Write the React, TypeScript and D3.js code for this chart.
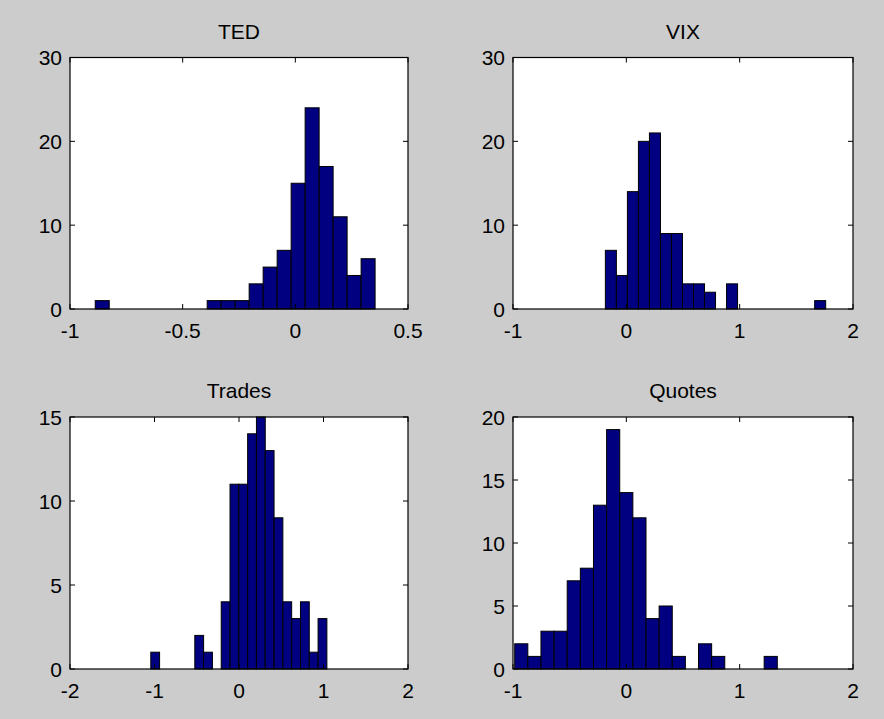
import React, { useEffect, useRef } from 'react'
import * as d3 from 'd3'

// histogram counts (20 bins each), and the data min/max that set the bins
const tedCounts = [1, 0, 0, 0, 0, 0, 0, 0, 1, 1, 1, 3, 5, 7, 15, 24, 17, 11, 4, 6]
const tedRange = [-0.888, 0.354]
const vixCounts = [7, 4, 14, 20, 21, 9, 9, 3, 3, 2, 0, 3, 0, 0, 0, 0, 0, 0, 0, 1]
const vixRange = [-0.185, 1.759]
const tradesCounts = [1, 0, 0, 0, 0, 2, 1, 0, 4, 11, 11, 14, 15, 13, 9, 4, 3, 4, 1, 3]
const tradesRange = [-1.044, 1.04]
const quotesCounts = [2, 1, 3, 3, 7, 8, 13, 19, 14, 12, 4, 5, 1, 0, 2, 1, 0, 0, 0, 1]
const quotesRange = [-0.985, 1.332]

const tedXTicks = [-1, -0.5, 0, 0.5]
const tedYTicks = [0, 10, 20, 30]
const vixXTicks = [-1, 0, 1, 2]
const vixYTicks = [0, 10, 20, 30]
const tradesXTicks = [-2, -1, 0, 1, 2]
const tradesYTicks = [0, 5, 10, 15]
const quotesXTicks = [-1, 0, 1, 2]
const quotesYTicks = [0, 5, 10, 15, 20]

const panels = [
    { title: 'TED', counts: tedCounts, range: tedRange, xTicks: tedXTicks, yTicks: tedYTicks, box: [70, 57.5, 408, 309] },
    { title: 'VIX', counts: vixCounts, range: vixRange, xTicks: vixXTicks, yTicks: vixYTicks, box: [513, 57.5, 853, 309] },
    { title: 'Trades', counts: tradesCounts, range: tradesRange, xTicks: tradesXTicks, yTicks: tradesYTicks, box: [70, 417, 408, 669] },
    { title: 'Quotes', counts: quotesCounts, range: quotesRange, xTicks: quotesXTicks, yTicks: quotesYTicks, box: [513, 417, 853, 669] },
]

const FONT = '"Liberation Sans", Arial, sans-serif'
const FS = 21
const TICK = 5

function drawPanel(svg: any, p: any) {
    const [x0, y0, x1, y1] = p.box
    const x = d3.scaleLinear().domain(d3.extent(p.xTicks) as any).range([x0, x1])
    const y = d3.scaleLinear().domain(d3.extent(p.yTicks) as any).range([y1, y0])
    const n = p.counts.length
    const w = (p.range[1] - p.range[0]) / n
    const bins = p.counts.map((c: number, i: number) => ({
        lo: p.range[0] + i * w,
        hi: p.range[0] + (i + 1) * w,
        c,
    }))

    const g = svg.append('g')

    g.append('rect')
        .attr('x', x0).attr('y', y0)
        .attr('width', x1 - x0).attr('height', y1 - y0)
        .attr('fill', '#fff')

    g.selectAll('rect.bar')
        .data(bins.filter((b: any) => b.c > 0))
        .enter()
        .append('rect')
        .classed('bar', true)
        .attr('x', (d: any) => x(d.lo))
        .attr('y', (d: any) => y(d.c))
        .attr('width', (d: any) => x(d.hi) - x(d.lo))
        .attr('height', (d: any) => y(0) - y(d.c))
        .attr('fill', '#000080')
        .attr('stroke', '#000')
        .attr('stroke-width', 1)

    // box
    g.append('rect')
        .attr('x', x0).attr('y', y0)
        .attr('width', x1 - x0).attr('height', y1 - y0)
        .attr('fill', 'none')
        .attr('stroke', '#000')
        .attr('stroke-width', 1.2)

    // inward ticks on all four sides
    p.xTicks.forEach((t: number) => {
        g.append('line').attr('x1', x(t)).attr('x2', x(t)).attr('y1', y1).attr('y2', y1 - TICK).attr('stroke', '#000')
        g.append('line').attr('x1', x(t)).attr('x2', x(t)).attr('y1', y0).attr('y2', y0 + TICK).attr('stroke', '#000')
        g.append('text')
            .attr('x', x(t)).attr('y', y1 + 29)
            .attr('text-anchor', 'middle')
            .attr('font-family', FONT).attr('font-size', FS)
            .text(String(t))
    })
    p.yTicks.forEach((t: number) => {
        g.append('line').attr('x1', x0).attr('x2', x0 + TICK).attr('y1', y(t)).attr('y2', y(t)).attr('stroke', '#000')
        g.append('line').attr('x1', x1).attr('x2', x1 - TICK).attr('y1', y(t)).attr('y2', y(t)).attr('stroke', '#000')
        g.append('text')
            .attr('x', x0 - 8).attr('y', y(t) + 7.5)
            .attr('text-anchor', 'end')
            .attr('font-family', FONT).attr('font-size', FS)
            .text(String(t))
    })

    g.append('text')
        .attr('x', (x0 + x1) / 2).attr('y', y0 - 19)
        .attr('text-anchor', 'middle')
        .attr('font-family', FONT).attr('font-size', FS)
        .text(p.title)
}

export default function App() {
    const ref = useRef<SVGSVGElement>(null)

    useEffect(() => {
        const svg = d3.select(ref.current)
        svg.selectAll('*').remove()
        svg.append('rect').attr('width', 884).attr('height', 719).attr('fill', '#cccccc')
        panels.forEach((p) => drawPanel(svg, p))
    }, [])

    return (
        <svg
            ref={ref}
            width={884}
            height={719}
            style={{ position: 'absolute', left: 0, top: 0, display: 'block' }}
        />
    )
}
